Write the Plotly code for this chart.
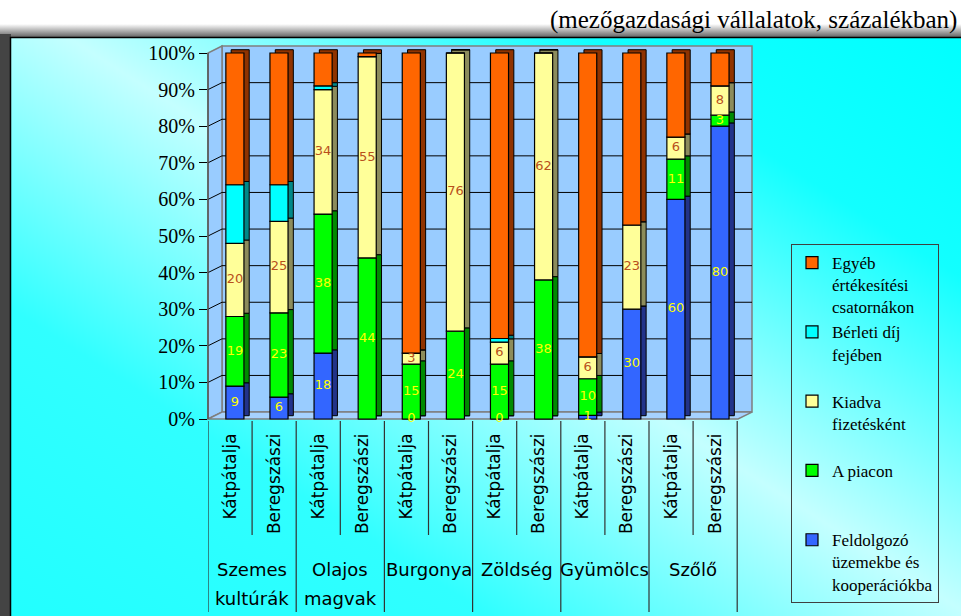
import base64
import numpy as np
import plotly.graph_objects as go

# ---------------- data ----------------
subcats = ["Kátpátalja", "Beregszászi"] * 6
groups = ["Szemes kultúrák", "Olajos magvak", "Burgonya", "Zöldség", "Gyümölcs", "Szőlő"]

feldolgozo = [9, 6, 18, 0, 0, 0, 0, 0, 1, 30, 60, 80]
piacon = [19, 23, 38, 44, 15, 24, 15, 38, 10, 0, 11, 3]
kiadva = [20, 25, 34, 55, 3, 76, 6, 62, 6, 23, 6, 8]
berleti = [16, 10, 1, 0, 0, 0, 1, 0, 0, 0, 0, 0]
egyeb = [36, 36, 9, 1, 82, 0, 78, 0, 83, 47, 23, 9]

lbl_feldolgozo = ["9", "6", "18", None, "0", None, "0", None, "1", "30", "60", "80"]
lbl_piacon = ["19", "23", "38", "44", "15", "24", "15", "38", "10", None, "11", "3"]
lbl_kiadva = ["20", "25", "34", "55", "3", "76", "6", "62", "6", "23", "6", "8"]

names = [
    "Feldolgozó<br>üzemekbe és<br>kooperációkba",
    "A piacon<br>\u00a0<br>\u00a0",
    "Kiadva<br>fizetésként<br>\u00a0",
    "Bérleti díj<br>fejében<br>\u00a0",
    "Egyéb<br>értékesítési<br>csatornákon",
]
y_ticks = list(range(0, 101, 10))
title_text = "(mezőgazdasági vállalatok, százalékban)"

# ---------------- layout geometry ----------------
W, H = 961, 616
def fx(p):
    return p / W
def fy(p):
    return 1 - p / H

L_AX, R_AX, T_AX, B_AX = 208, 752, 40, 421
SLOT = 44.1
PPU = 3.66
Y0PX = 419
x_range = [-0.5, -0.5 + (R_AX - L_AX) / SLOT]
y_range = [-(B_AX - Y0PX) / PPU, (Y0PX - T_AX) / PPU]

DEPTH_X = 14   # px
DEPTH_Y = 1.9  # percent units
BAR_W = 0.41
BAR_OFF = -0.095
SH_DX = 0.12
SH_DY = 0.9

colors = ["#3366ff", "#00ff00", "#ffff99", "#00ffff", "#ff6600"]
side_colors = ["#22338a", "#008a00", "#8c8c5c", "#008888", "#8f3300"]
series = [feldolgozo, piacon, kiadva, berleti, egyeb]

idx = list(range(len(subcats)))
vals = np.array(series, dtype=float)
bases = np.vstack([np.zeros(len(idx)), np.cumsum(vals, axis=0)[:-1]])

fig = go.Figure()

# depth (side/top faces)
for k in range(len(series)):
    fig.add_trace(go.Bar(
        x=idx, y=vals[k], base=bases[k] + SH_DY, width=BAR_W, offset=BAR_OFF + SH_DX,
        marker=dict(color=side_colors[k], line=dict(color="#000000", width=1)),
        showlegend=False, hoverinfo="skip"))

# front faces
for k in range(len(series)):
    fig.add_trace(go.Bar(
        x=idx, y=vals[k], base=bases[k], width=BAR_W, offset=BAR_OFF, name=names[k],
        marker=dict(color=colors[k], line=dict(color="#000000", width=1.2))))

# data labels
lx = [i + BAR_OFF + BAR_W / 2 for i in idx]
for k, (lbls, col) in enumerate([(lbl_feldolgozo, "#ffff00"), (lbl_piacon, "#ffff00"),
                                 (lbl_kiadva, "#b8501c")]):
    mids = bases[k] + vals[k] / 2
    fig.add_trace(go.Scatter(
        x=lx, y=mids, text=lbls, mode="text", cliponaxis=False,
        textfont=dict(family="DejaVu Sans", size=13, color=col),
        showlegend=False, hoverinfo="skip"))

# ---------------- background image ----------------
svg = f"""<svg xmlns="http://www.w3.org/2000/svg" width="{W}" height="{H}" viewBox="0 0 {W} {H}">
<defs>
<linearGradient id="sh" x1="0" y1="0" x2="0" y2="1">
<stop offset="0" stop-color="#ffffff"/><stop offset="1" stop-color="#5a5a5a"/></linearGradient>
<linearGradient id="bg" x1="1" y1="0" x2="0" y2="1">
<stop offset="0" stop-color="#00ffff"/><stop offset="0.2" stop-color="#12ffff"/>
<stop offset="0.47" stop-color="#c4ffff"/><stop offset="0.72" stop-color="#30ffff"/>
<stop offset="1" stop-color="#20ffff"/></linearGradient>
</defs>
<rect width="{W}" height="{H}" fill="#ffffff"/>
<rect x="0" y="24" width="{W}" height="14" fill="url(#sh)"/>
<rect x="0" y="34" width="11" height="{H}" fill="#444444"/>
<rect x="10.5" y="37.5" width="{W}" height="{H}" fill="url(#bg)" stroke="#000000" stroke-width="1.5"/>
</svg>"""
uri = "data:image/svg+xml;base64," + base64.b64encode(svg.encode("utf-8")).decode("ascii")

# ---------------- walls & grid ----------------
xl = fx(L_AX)
xbl = fx(L_AX + DEPTH_X)
xfr = fx(R_AX - DEPTH_X)
xbr = fx(R_AX)
shapes = []
wall = "#99ccff"
edge = "#7f7f7f"
shapes.append(dict(type="path", xref="paper", yref="y", layer="below",
                   path=f"M{xbl},{DEPTH_Y} L{xbr},{DEPTH_Y} L{xbr},{100 + DEPTH_Y} L{xbl},{100 + DEPTH_Y} Z",
                   fillcolor=wall, line=dict(color=edge, width=1.5)))
shapes.append(dict(type="path", xref="paper", yref="y", layer="below",
                   path=f"M{xl},0 L{xbl},{DEPTH_Y} L{xbl},{100 + DEPTH_Y} L{xl},100 Z",
                   fillcolor=wall, line=dict(color=edge, width=1.5)))
shapes.append(dict(type="path", xref="paper", yref="y", layer="below",
                   path=f"M{xl},0 L{xfr},0 L{xbr},{DEPTH_Y} L{xbl},{DEPTH_Y} Z",
                   fillcolor="#a6d2ff", line=dict(color=edge, width=1.5)))
for v in y_ticks[1:-1]:
    shapes.append(dict(type="path", xref="paper", yref="y", layer="below",
                       path=f"M{xl},{v} L{xbl},{v + DEPTH_Y} L{xbr},{v + DEPTH_Y}",
                       line=dict(color="#000000", width=1)))
shapes.append(dict(type="line", xref="paper", yref="y", x0=xl, x1=xl, y0=0, y1=100,
                   line=dict(color="#555555", width=1.5)))

# category dividers
for b in range(len(subcats) + 1):
    xb = b - 0.5
    bottom = fy(612) if b % 2 == 0 else fy(535)
    shapes.append(dict(type="line", xref="x", yref="paper", x0=xb, x1=xb,
                       y0=fy(B_AX), y1=bottom, line=dict(color="#333333", width=1.2)))

# ---------------- annotations ----------------
annotations = [dict(text=title_text, xref="paper", yref="paper", x=fx(959), y=fy(20),
                    xanchor="right", yanchor="middle", showarrow=False,
                    font=dict(family="Liberation Serif", size=25, color="#000000"))]
for g, name in enumerate(groups):
    for li, line in enumerate(name.split(" ")):
        annotations.append(dict(text=line, xref="x", yref="paper", x=2 * g + 0.5,
                                y=fy(569 + 29 * li), xanchor="center", yanchor="middle",
                                showarrow=False,
                                font=dict(family="DejaVu Sans", size=18, color="#000000")))

fig.update_layout(
    template="none",
    width=W, height=H,
    margin=dict(l=0, r=0, t=0, b=0),
    paper_bgcolor="#ffffff",
    plot_bgcolor="rgba(0,0,0,0)",
    barmode="overlay",
    images=[dict(source=uri, xref="paper", yref="paper", x=0, y=1, sizex=1, sizey=1,
                 xanchor="left", yanchor="top", sizing="stretch", layer="below")],
    shapes=shapes,
    annotations=annotations,
    xaxis=dict(domain=[fx(L_AX), fx(R_AX)], range=x_range, tickvals=idx, ticktext=subcats,
               tickangle=-90, showgrid=False, zeroline=False, showline=False, ticks="",
               ticklabelstandoff=8, automargin=False, fixedrange=True,
               tickfont=dict(family="DejaVu Sans", size=17, color="#000000")),
    yaxis=dict(domain=[fy(B_AX), fy(T_AX)], range=y_range, tickvals=y_ticks,
               ticktext=[f"{v}%" for v in y_ticks], ticks="outside", ticklen=8,
               tickcolor="#000000", tickwidth=1.2, showgrid=False, zeroline=False,
               showline=False, automargin=False, fixedrange=True,
               tickfont=dict(family="Liberation Serif", size=20, color="#000000")),
    legend=dict(x=fx(791), y=fy(244), xanchor="left", yanchor="top",
                traceorder="reversed", valign="top", bgcolor="rgba(0,0,0,0)",
                bordercolor="#404040", borderwidth=1,
                font=dict(family="Liberation Serif", size=17, color="#000000")),
    showlegend=True,
)

# the figure fills the whole 961x616 window (no default page margin)
fig.write_html("out.html",
               config={"displayModeBar": False},
               post_script="document.body.style.margin='0px';"
                           "document.body.style.overflow='hidden';")
